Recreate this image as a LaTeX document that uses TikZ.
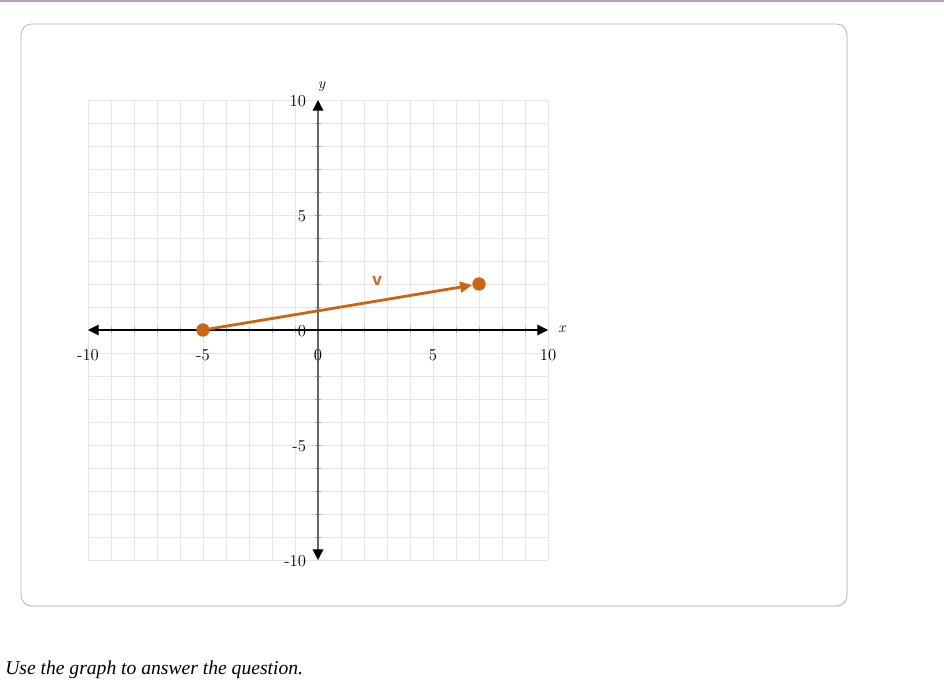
\documentclass[tikz,border=0pt]{standalone}
\usepackage{fontspec}
\newfontfamily\notefont{Liberation Serif}
\newfontfamily\vecfont{Liberation Sans}
\usetikzlibrary{arrows.meta,shadows}
\definecolor{vecorange}{RGB}{201,101,21}
\definecolor{topline}{RGB}{178,160,190}
\begin{document}
\begin{tikzpicture}[x=0.75pt,y=-0.75pt,
% common options for the card and the grid:
card/.style = {draw=gray!60, fill=white, rounded corners=8pt, line width=0.6pt,
            drop shadow={opacity=0.12, shadow xshift=0.6pt, shadow yshift=-0.9pt}},
gridline/.style = {draw=gray!20, line width=0.7pt},
tick/.style = {draw=gray!70, line width=0.5pt},
% common options for the axes and their labels:
xaxis/.style = {draw=black, line width=0.8pt, {Triangle[length=8pt,width=8pt]}-{Triangle[length=8pt,width=8pt]}},
yaxis/.style = {draw=gray!80!black, line width=0.9pt,
            {Triangle[length=8pt,width=8pt,color=black]}-{Triangle[length=8pt,width=8pt,color=black]}},
ticklabel/.style = {font=\fontsize{12.5}{14}\selectfont, inner sep=1pt},
axisname/.style = {font=\fontsize{11.5}{13}\selectfont\itshape, inner sep=0},
% common options for the vector:
vecdot/.style = {circle, fill=vecorange, minimum size=10pt, inner sep=0},
vec/.style = {draw=vecorange, line width=2.1pt, -{Triangle[length=9pt,width=8pt]}}]
\useasboundingbox (0,0) rectangle (944,692);
\draw[topline, line width=1.5pt] (0,0.8) -- (944,0.8);
\path[card] (21,24) rectangle (847,606);
\begin{scope}[shift={(318,330)}, x=17.25pt, y=17.25pt]
\draw[gridline, step=1] (-10,-10) grid (10,10);
\foreach \i in {-9,...,9} {
  \draw[tick] (\i,-0.12) -- (\i,0.12);
  \draw[tick] (-0.12,\i) -- (0.12,\i);
}
\coordinate (xl) at (-10,0);
\coordinate (xr) at (10,0);
\coordinate (yb) at (0,-10);
\coordinate (yt) at (0,10);
\draw[yaxis] (yb) -- (yt);
\draw[xaxis] (xl) -- (xr);
\foreach \i in {-10,-5,0,5,10}
  \node[ticklabel] (xlab\i) at (\i,-1.08) {\i};
\foreach \j in {-10,-5,0,5,10}
  \node[ticklabel,anchor=east] (ylab\j) at (-0.45,\j-0.05) {\j};
\node[axisname] (xname) at (10.6,0.05) {x};
\node[axisname] (yname) at (0.15,10.6) {y};
\node[vecdot] (A) at (-5,0) {};
\node[vecdot] (B) at (7,2) {};
\draw[vec] (A) -- (B);
\node[font=\vecfont\bfseries\fontsize{13}{15}\selectfont, text=vecorange] (vlab) at (2.57,2.12) {v};
\end{scope}
\node[font=\notefont\itshape\fontsize{14.7}{17}\selectfont, anchor=base west, inner sep=0] (note) at (5,674)
  {Use the graph to answer the question.};
\end{tikzpicture}
\end{document}
